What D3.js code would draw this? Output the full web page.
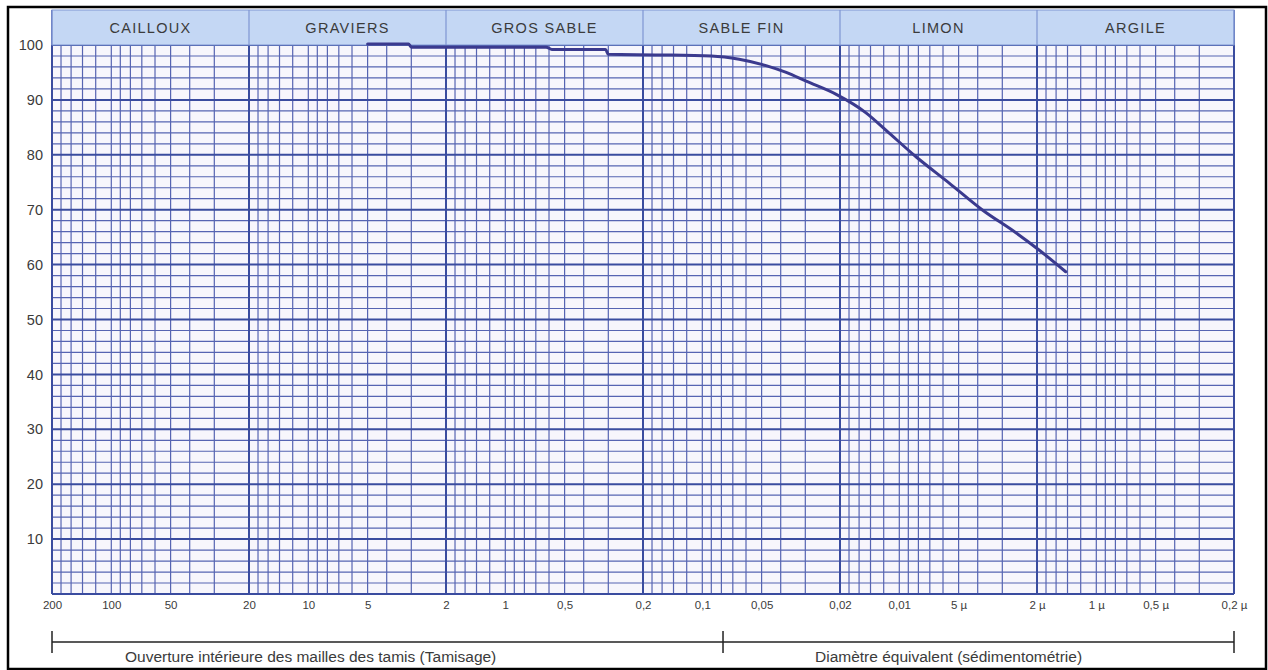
<!DOCTYPE html>
<html>
<head>
<meta charset="utf-8">
<script src="https://cdn.jsdelivr.net/npm/d3@7"></script>
<style>
    html, body { margin: 0; padding: 0; background: #fff; }
    svg { display: block; font-family: "Liberation Sans", Arial, sans-serif; }
</style>
</head>
<body>
<svg id="chart" width="1268" height="670"></svg>
<script>
// grain size classes, one per decade of the log axis
const classes = ['CAILLOUX', 'GRAVIERS', 'GROS SABLE', 'SABLE FIN', 'LIMON', 'ARGILE'];
// decade bounds in mm
const decades = [200, 20, 2, 0.2, 0.02, 0.002, 0.0002];
// minor grid lines inside a decade, as multiples of its lower bound
const minorSteps = [1.5, 2, 2.5, 3, 3.5, 4, 4.5, 5, 6, 7, 8, 9];

const tickValues = [200, 100, 50, 20, 10, 5, 2, 1, 0.5, 0.2, 0.1, 0.05, 0.02, 0.01, 0.005, 0.002, 0.001, 0.0005, 0.0002];
const tickLabels = ['200', '100', '50', '20', '10', '5', '2', '1', '0,5', '0,2', '0,1', '0,05', '0,02', '0,01', '5 µ', '2 µ', '1 µ', '0,5 µ', '0,2 µ'];
const percentTicks = [10, 20, 30, 40, 50, 60, 70, 80, 90, 100];

// passing curve, diameter (mm) / cumulative passing (%)
const diameters = [5, 3.1, 3.0, 0.62, 0.58, 0.31, 0.30, 0.165, 0.09, 0.065, 0.047, 0.0375, 0.0297, 0.0209, 0.0147, 0.0117, 0.0082, 0.0056, 0.0038, 0.00256, 0.00196, 0.00143];
const passing = [100.2, 100.2, 99.6, 99.6, 99.2, 99.2, 98.3, 98.2, 98.0, 97.4, 96.2, 95.0, 93.4, 91.0, 87.6, 84.5, 79.6, 74.9, 70.0, 65.8, 62.7, 58.7];

// where the sieving part ends and sedimentometry begins (80 µm)
const sieveLimit = 0.0785;

class GrainChart {
    constructor(svg){
        this.svg = svg;
        this.left = 52;
        this.right = 1234;
        this.top = 45;
        this.bottom = 594;
        this.headerTop = 10;

        this.x = d3.scaleLog().domain([200, 0.0002]).range([this.left, this.right]);
        this.y = d3.scaleLinear().domain([0, 100]).range([this.bottom, this.top]);
    }

    draw(){
        this.frame();
        this.grid();
        this.header();
        this.axes();
        this.curve();
        this.bracket();
    }

    frame(){
        this.svg.append('rect')
            .attr('x', 8).attr('y', 7)
            .attr('width', 1258).attr('height', 662)
            .attr('fill', '#fff')
            .attr('stroke', '#000')
            .attr('stroke-width', 2.5);

        this.svg.append('rect')
            .attr('x', this.left).attr('y', this.top)
            .attr('width', this.right - this.left).attr('height', this.bottom - this.top)
            .attr('fill', '#f7f6fc');
    }

    grid(){
        let g = this.svg.append('g').attr('class', 'grid');
        let minorX = [];

        decades.slice(1).forEach(low => minorSteps.forEach(m => minorX.push(low * m)));

        g.selectAll('line.vminor')
            .data(minorX)
            .enter().append('line')
                .attr('class', 'vminor')
                .attr('x1', d => this.x(d)).attr('x2', d => this.x(d))
                .attr('y1', this.top).attr('y2', this.bottom)
                .attr('stroke', '#5664b2')
                .attr('stroke-width', 1.2);

        let minorY = d3.range(0, 101, 2).filter(d => d % 10 !== 0);

        g.selectAll('line.hminor')
            .data(minorY)
            .enter().append('line')
                .attr('class', 'hminor')
                .attr('x1', this.left).attr('x2', this.right)
                .attr('y1', d => this.y(d)).attr('y2', d => this.y(d))
                .attr('stroke', '#5664b2')
                .attr('stroke-width', 1.2);

        g.selectAll('line.hmajor')
            .data(d3.range(0, 101, 10))
            .enter().append('line')
                .attr('class', 'hmajor')
                .attr('x1', this.left).attr('x2', this.right)
                .attr('y1', d => this.y(d)).attr('y2', d => this.y(d))
                .attr('stroke', '#3a4c9f')
                .attr('stroke-width', 2);

        g.selectAll('line.vmajor')
            .data(decades)
            .enter().append('line')
                .attr('class', 'vmajor')
                .attr('x1', d => this.x(d)).attr('x2', d => this.x(d))
                .attr('y1', this.headerTop).attr('y2', this.bottom)
                .attr('stroke', '#3a4c9f')
                .attr('stroke-width', 2);
    }

    header(){
        let g = this.svg.append('g').attr('class', 'header');

        g.append('rect')
            .attr('x', this.left).attr('y', this.headerTop)
            .attr('width', this.right - this.left).attr('height', this.top - this.headerTop)
            .attr('fill', '#c4d7f4')
            .attr('stroke', '#7f95d2')
            .attr('stroke-width', 1);

        g.selectAll('line.sep')
            .data(decades)
            .enter().append('line')
                .attr('class', 'sep')
                .attr('x1', d => this.x(d)).attr('x2', d => this.x(d))
                .attr('y1', this.headerTop).attr('y2', this.top)
                .attr('stroke', '#7f95d2')
                .attr('stroke-width', 1.2);

        g.selectAll('text')
            .data(classes)
            .enter().append('text')
                .attr('x', (d, i) => (this.x(decades[i]) + this.x(decades[i + 1])) / 2)
                .attr('y', 33)
                .attr('text-anchor', 'middle')
                .attr('font-size', 14.5)
                .attr('letter-spacing', 1.3)
                .attr('fill', '#3b3b3b')
                .text(d => d);
    }

    axes(){
        let xAxis = d3.axisBottom(this.x)
            .tickValues(tickValues)
            .tickFormat((d, i) => tickLabels[i])
            .tickSize(0)
            .tickPadding(7);

        let gx = this.svg.append('g')
            .attr('transform', `translate(0, ${this.bottom})`)
            .call(xAxis);

        gx.select('.domain').remove();
        gx.selectAll('text')
            .attr('font-size', 11.5)
            .attr('font-family', '"Liberation Sans", Arial, sans-serif')
            .attr('fill', '#3b3b3b');

        let yAxis = d3.axisLeft(this.y)
            .tickValues(percentTicks)
            .tickSize(0)
            .tickPadding(9);

        let gy = this.svg.append('g')
            .attr('transform', `translate(${this.left}, 0)`)
            .call(yAxis);

        gy.select('.domain').remove();
        gy.selectAll('text')
            .attr('font-size', 14.5)
            .attr('font-family', '"Liberation Sans", Arial, sans-serif')
            .attr('fill', '#3b3b3b');
    }

    curve(){
        let points = diameters.map((d, i) => [d, passing[i]]);
        let line = d3.line()
            .x(d => this.x(d[0]))
            .y(d => this.y(d[1]))
            .curve(d3.curveMonotoneX);

        this.svg.append('path')
            .datum(points)
            .attr('d', line)
            .attr('fill', 'none')
            .attr('stroke', '#3b3a8e')
            .attr('stroke-width', 3)
            .attr('stroke-linecap', 'round')
            .attr('stroke-linejoin', 'round');
    }

    bracket(){
        let g = this.svg.append('g').attr('class', 'bracket');
        let yLine = 642;
        let ends = [200, sieveLimit, 0.0002];

        g.append('line')
            .attr('x1', this.x(200)).attr('x2', this.x(0.0002))
            .attr('y1', yLine).attr('y2', yLine)
            .attr('stroke', '#222')
            .attr('stroke-width', 1.5);

        g.selectAll('line.tick')
            .data(ends)
            .enter().append('line')
                .attr('class', 'tick')
                .attr('x1', d => this.x(d)).attr('x2', d => this.x(d))
                .attr('y1', yLine - 11).attr('y2', yLine + 11)
                .attr('stroke', '#222')
                .attr('stroke-width', 1.5);

        g.append('text')
            .attr('x', 125).attr('y', 662)
            .attr('font-size', 15.5)
            .attr('fill', '#3b3b3b')
            .text('Ouverture intérieure des mailles des tamis (Tamisage)');

        g.append('text')
            .attr('x', 815).attr('y', 662)
            .attr('font-size', 15.5)
            .attr('fill', '#3b3b3b')
            .text('Diamètre équivalent (sédimentométrie)');
    }
}

new GrainChart(d3.select('#chart')).draw();
</script>
</body>
</html>
